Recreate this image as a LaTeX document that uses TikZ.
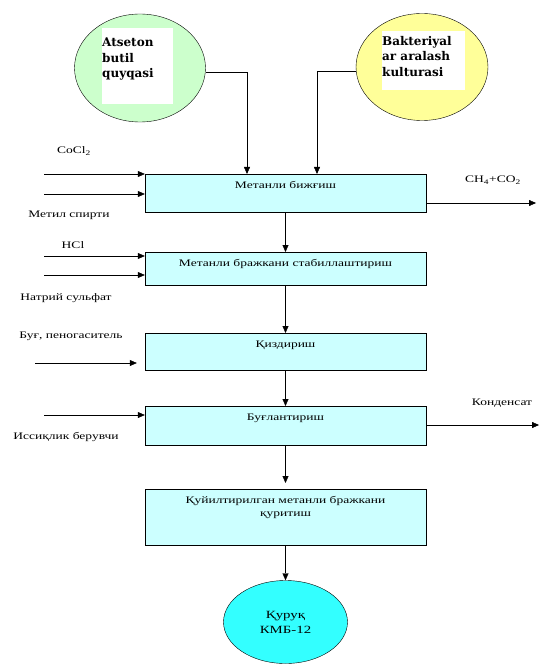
\documentclass[tikz,border=0pt]{standalone}
\usepackage{fontspec}
\setmainfont[FakeStretch=1.35]{Liberation Serif}
\newfontfamily\ovalfont{DejaVu Serif}
\usepackage{tikz}
\usetikzlibrary{positioning,calc,arrows.meta,shapes.geometric}
\definecolor{boxcyan}{HTML}{CCFFFF}
\definecolor{ovalgreen}{HTML}{CCFFCC}
\definecolor{ovalyellow}{HTML}{FFFF99}
\definecolor{ovalcyan}{HTML}{33FFFF}
\tikzset{>={Triangle[length=7pt,width=6pt]}}
\tikzset{
  process/.style={draw,fill=boxcyan,anchor=north,minimum width=281pt,inner ysep=3pt,text height=11pt,align=center,font=\fontsize{10}{13}\selectfont},
  oval/.style={draw,ellipse,inner sep=0pt},
  pad/.style={fill=white,anchor=north west,inner sep=0pt},
  tag/.style={anchor=north west,align=left,inner sep=0pt,font=\ovalfont\bfseries\fontsize{12}{15.5}\selectfont},
  note/.style={inner sep=1pt,font=\fontsize{10}{12}\selectfont}
}

\begin{document}
\begin{tikzpicture}[x=1pt,y=-1pt]
\useasboundingbox (0,0) rectangle (540,671);
% sources
\node[oval,fill=ovalgreen,minimum width=131pt,minimum height=108pt] (atseton) at (140,68) {};
\node[pad,minimum width=71pt,minimum height=76pt] (atsetonpad) at (102,28) {};
\node[tag] (atsetontxt) at (102,38) {Atseton\\butil\\quyqasi};
\node[oval,fill=ovalyellow,minimum width=132pt,minimum height=107pt] (bakteriya) at (422,67) {};
\node[pad,minimum width=83pt,minimum height=59pt] (bakteriyapad) at (382,31) {};
\node[tag] (bakteriyatxt) at (382,36) {Bakteriyal\\ar aralash\\kulturasi};
% process steps
\node[process,text depth=21pt] (fermen) at (285.5,174) {Метанли бижғиш};
\node[process,text depth=16pt] (stab) at (285.5,252) {Метанли бражкани стабиллаштириш};
\node[process,text depth=20pt] (qizdirish) at (285.5,333) {Қиздириш};
\node[process,text depth=22pt] (buglash) at (285.5,406) {Буғлантириш};
\node[process,text height=24pt,text depth=26pt] (quritish) at (285.5,489) {Қуйилтирилган метанли бражкани\\қуритиш};
\node[oval,fill=ovalcyan,minimum width=124pt,minimum height=83pt,align=center,font=\fontsize{11}{15}\selectfont] (quruq) at (285.5,622) {Қуруқ\\КМБ-12};
% free ends
\coordinate (cocl) at (44,174);
\coordinate (metil) at (44,194);
\coordinate (hcl) at (44,256);
\coordinate (natriy) at (44,275);
\coordinate (bugin) at (35,363);
\coordinate (issiq) at (44,415);
\coordinate (gasout) at (536,203);
\coordinate (kondout) at (539,425);
% labels
\node[note] (cocltxt) at (74,151) {CoCl\textsubscript{2}};
\node[note] (metiltxt) at (69,215) {Метил спирти};
\node[note] (hcltxt) at (73,245) {HCl};
\node[note] (gastxt) at (493,180) {CH\textsubscript{4}+CO\textsubscript{2}};
\node[note] (natriytxt) at (66,298) {Натрий сульфат};
\node[note] (bugtxt) at (71,336) {Буғ, пеногаситель};
\node[note] (issiqtxt) at (66,437) {Иссиқлик берувчи};
\node[note] (kondtxt) at (502,403) {Конденсат};
% connectors
\draw[->] ([yshift=-4pt]atseton.east) -| ([xshift=-38.5pt]fermen.north);
\draw[->] ([yshift=-4pt]bakteriya.west) -| ([xshift=31.5pt]fermen.north);
\draw[->] (cocl) -- (cocl -| fermen.west);
\draw[->] (metil) -- (metil -| fermen.west);
\draw[->] (hcl) -- (hcl -| stab.west);
\draw[->] (natriy) -- (natriy -| stab.west);
\draw[->,shorten >=8pt] (bugin) -- (bugin -| qizdirish.west);
\draw[->] (issiq) -- (issiq -| buglash.west);
\draw[->] (fermen.east |- gasout) -- (gasout);
\draw[->] (buglash.east |- kondout) -- (kondout);
\draw[->] (fermen.south) -- (stab.north);
\draw[->] (stab.south) -- (qizdirish.north);
\draw[->] (qizdirish.south) -- (buglash.north);
\draw[->,shorten >=6pt] (buglash.south) -- (quritish.north);
\draw[->] (quritish.south) -- (quruq.north);
\end{tikzpicture}
\end{document}
